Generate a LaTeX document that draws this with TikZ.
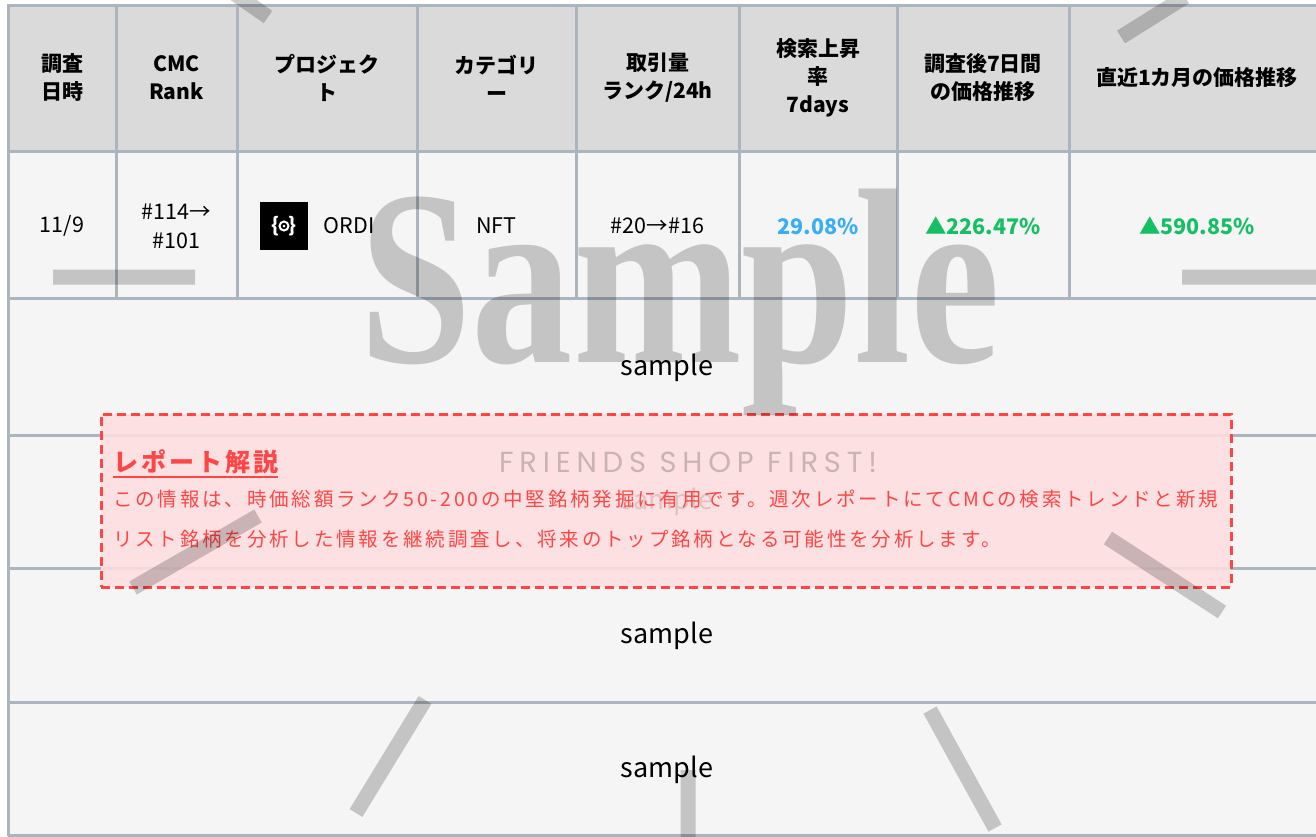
\documentclass[tikz,border=0pt]{standalone}
\usepackage{fontspec}
\usepackage{tikz}
\usetikzlibrary{positioning}
\setmainfont{Noto Sans CJK JP}
\newfontfamily\stampfont{Liberation Serif}
\newfontfamily\shopfont{Poppins}
\definecolor{gridgray}{HTML}{ABB5C0}
\definecolor{headgray}{HTML}{DADADA}
\definecolor{bodygray}{HTML}{F5F5F5}
\definecolor{notered}{HTML}{FF4646}
\definecolor{notepink}{HTML}{FFDEDF}
\definecolor{upgreen}{HTML}{17BF64}
\definecolor{searchblue}{HTML}{38AEF5}

\begin{document}
\begin{tikzpicture}[x=1pt,y=-1pt]
        \tikzstyle{grid line}=[draw=gridgray,line width=3pt]
        \tikzstyle{head}=[font=\bfseries\fontsize{21}{28}\selectfont,align=center]
        \tikzstyle{cell}=[font=\fontsize{21.5}{29}\selectfont,align=center]
        \tikzstyle{row label}=[font=\fontsize{27}{30}\selectfont]
        \tikzstyle{stamp}=[line width=15pt,black,opacity=0.2]
        \useasboundingbox (0,0) rectangle (1316,836);
        \fill[white] (0,0) rectangle (1316,836);
        \fill[headgray] (8,5) rectangle (1330,151);
        \fill[bodygray] (8,151) rectangle (1330,836);
        % table rules
        \draw[grid line] (6.5,5) -- (1330,5) (8,151) -- (1330,151) (8,298) -- (1330,298)
            (8,435) -- (1330,435) (8,568) -- (1330,568) (8,702) -- (1330,702) (8,835) -- (1330,835);
        \draw[grid line] (8,5) -- (8,836) (116,5) -- (116,298) (237,5) -- (237,298) (417,5) -- (417,298)
            (576,5) -- (576,298) (739,5) -- (739,298) (897,5) -- (897,298) (1069,5) -- (1069,298);
        % header
        \node[head] (Date) at (62,78) {調査\\日時};
        \node[head] (Rank) at (176.5,78) {CMC\\Rank};
        \node[head] (Project) at (327,78) {プロジェク\\ト};
        \node[head] (Category) at (496.5,78) {カテゴリ\\ー};
        \node[head] (Volume) at (657.5,78) {取引量\\ランク/24h};
        \node[head] (Search) at (818,78) {検索上昇\\率\\7days};
        \node[head] (Week) at (983,78) {調査後7日間\\の価格推移};
        \node[head] (Month) at (1197,78) {直近1カ月の価格推移};
        % data row
        \node[cell] (DateVal) at (62,226) {11/9};
        \node[cell] (RankVal) at (176.5,226) {\#114→\\\#101};
        \node[fill=black,minimum size=48pt,inner sep=0pt] (OrdiIcon) at (284,226) {};
        \node[text=white,font=\bfseries\fontsize{20}{20}\selectfont] at (OrdiIcon) {\{\hspace{9pt}\}};
        \draw[white,line width=2pt] (OrdiIcon) circle (4.5pt);
        \fill[white] (OrdiIcon) circle (1.5pt);
        \node[cell,right=12pt of OrdiIcon] (Ordi) {ORDI};
        \node[cell] (CategoryVal) at (496.5,226) {NFT};
        \node[cell] (VolumeVal) at (657.5,226) {\#20→\#16};
        \node[cell,text=searchblue,font=\bfseries\fontsize{21.5}{29}\selectfont] (SearchVal) at (818,226) {29.08\%};
        \node[cell,text=upgreen,font=\bfseries\fontsize{21.5}{29}\selectfont] (WeekVal) at (983,226) {▲226.47\%};
        \node[cell,text=upgreen,font=\bfseries\fontsize{21.5}{29}\selectfont] (MonthVal) at (1197,226) {▲590.85\%};
        % sample rows
        \node[row label] (RowA) at (667,368) {sample};
        \node[row label] (RowB) at (667,502) {sample};
        \node[row label] (RowC) at (667,636) {sample};
        \node[row label] (RowD) at (667,770) {sample};
        % report note
        \node[draw=notered,line width=3pt,dash pattern=on 9pt off 5pt,fill=notepink,fill opacity=0.88,
            minimum width=1130pt,minimum height=173pt,inner sep=0pt] (Report) at (666,500.5) {};
        \node[anchor=west,inner sep=0pt,text=notered,font=\bfseries\fontsize{25}{28}\selectfont\addfontfeature{LetterSpace=12}]
            (ReportTitle) at (113,462) {レポート解説};
        \draw[notered,line width=2pt] ([yshift=-3pt]ReportTitle.south west) -- ([yshift=-3pt]ReportTitle.south east);
        \node[anchor=north west,inner sep=0pt,align=left,text=notered,font=\fontsize{19.5}{40}\selectfont\addfontfeature{LetterSpace=14.5}]
            (ReportText) at (113,490) {この情報は、時価総額ランク50-200の中堅銘柄発掘に有用です。週次レポートにてCMCの検索トレンドと新規\\リスト銘柄を分析した情報を継続調査し、将来のトップ銘柄となる可能性を分析します。};
        % watermark
        \draw[stamp] (225,-13) -- (268,17) (1121,37) -- (1185,-3)
            (53,277) -- (195,277) (1182,277) -- (1330,277)
            (133,588) -- (258,516) (1108,538) -- (1222,612)
            (356,813) -- (425,700) (930,710) -- (995,828) (688,770) -- (688,840);
        \node[text=black,text opacity=0.2,font=\stampfont\bfseries\fontsize{250}{250}\selectfont] (Stamp) at (680,302)
            {\scalebox{0.81}[1]{Sample}};
        \node[text=black,text opacity=0.2,font=\shopfont\fontsize{29}{30}\selectfont\addfontfeature{LetterSpace=20}] (Shop) at (688,462)
            {FRIENDS SHOP FIRST!};
    \end{tikzpicture}
\end{document}
